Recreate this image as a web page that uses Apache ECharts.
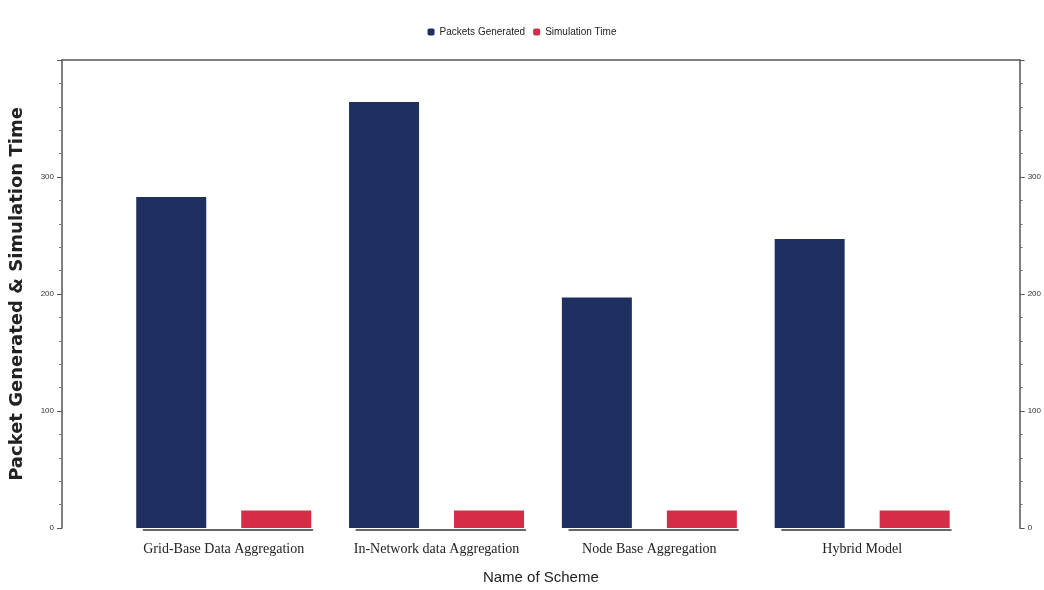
<!DOCTYPE html>
<html>
<head>
<meta charset="utf-8">
<script src="https://cdn.jsdelivr.net/npm/echarts@6/dist/echarts.min.js"></script>
<style>html,body{margin:0;padding:0;background:#fff}#c{width:1044px;height:590px}</style>
</head>
<body>
<div id="c"></div>
<script>
var categories = ["Grid-Base Data Aggregation", "In-Network data Aggregation", "Node Base Aggregation", "Hybrid Model"];
var packetsGenerated = [283, 364, 197, 247];
var simulationTime = [15, 15, 15, 15];
var yTicks = [0, 100, 200, 300];
var seriesNames = ["Packets Generated", "Simulation Time"];

var chart = echarts.init(document.getElementById('c'));
var idx = categories.map(function(_, i){ return i; });
var axisCommon = {
  type: 'value', min: 0, max: 400, interval: 100,
  axisLine: {show: true, onZero: false, lineStyle: {color: '#555', width: 1.5}},
  axisTick: {show: true, length: 5, lineStyle: {color: '#555'}},
  minorTick: {show: true, splitNumber: 5, length: 3, lineStyle: {color: '#777'}},
  splitLine: {show: false},
  axisLabel: {fontSize: 8, color: '#333', showMaxLabel: false,
    formatter: function(v){ return yTicks.indexOf(v) >= 0 ? String(v) : ''; }}
};
chart.setOption({
  animation: false,
  legend: {
    top: 22, left: 'center', itemWidth: 7, itemHeight: 7, itemGap: 8,
    textStyle: {fontSize: 10, color: '#222', fontFamily: 'Liberation Sans Narrow, Arial Narrow, sans-serif'},
    data: seriesNames
  },
  grid: {left: 62, right: 24, top: 60, bottom: 53},
  xAxis: [{
    type: 'value', min: -0.76, max: 3.74,
    axisLine: {show: false, onZero: false}, axisTick: {show: false}, splitLine: {show: false},
    axisLabel: {customValues: idx, fontSize: 14, color: '#222', fontFamily: 'Liberation Serif, Times New Roman, serif',
      margin: 14, formatter: function(v){ return categories[Math.round(v)] || ''; }},
    name: 'Name of Scheme', nameLocation: 'middle', nameGap: 42,
    nameTextStyle: {fontSize: 15, color: '#222', fontFamily: 'Liberation Sans Narrow, Arial Narrow, sans-serif'}
  }, {
    type: 'value', position: 'top', min: -0.76, max: 3.74,
    axisLine: {show: true, onZero: false, lineStyle: {color: '#555', width: 1.5}},
    axisTick: {show: false}, axisLabel: {show: false}, splitLine: {show: false}
  }],
  yAxis: [
    Object.assign({}, axisCommon, {
      position: 'left',
      name: 'Packet Generated & Simulation Time', nameLocation: 'middle', nameRotate: 90, nameGap: 36,
      nameTextStyle: {fontSize: 18, fontWeight: 'bold', color: '#222', fontFamily: 'DejaVu Sans, sans-serif'}
    }),
    Object.assign({}, axisCommon, {position: 'right'})
  ],
  series: [{
    name: seriesNames[0], type: 'bar', barWidth: 70, barGap: '50%',
    itemStyle: {color: '#1f3060'},
    data: packetsGenerated.map(function(v, i){ return [i, v]; })
  }, {
    name: seriesNames[1], type: 'bar', barWidth: 70, barGap: '50%',
    itemStyle: {color: '#d62c48'},
    data: simulationTime.map(function(v, i){ return [i, v]; })
  }, {
    type: 'custom', silent: true,
    data: idx,
    renderItem: function(params, api){
      var i = api.value(0);
      var a = api.coord([i - 0.38, 0]);
      var b = api.coord([i + 0.42, 0]);
      return {type: 'line', shape: {x1: a[0], y1: a[1] + 2, x2: b[0], y2: b[1] + 2},
        style: {stroke: '#666', lineWidth: 2}};
    }
  }]
});
</script>
</body>
</html>
